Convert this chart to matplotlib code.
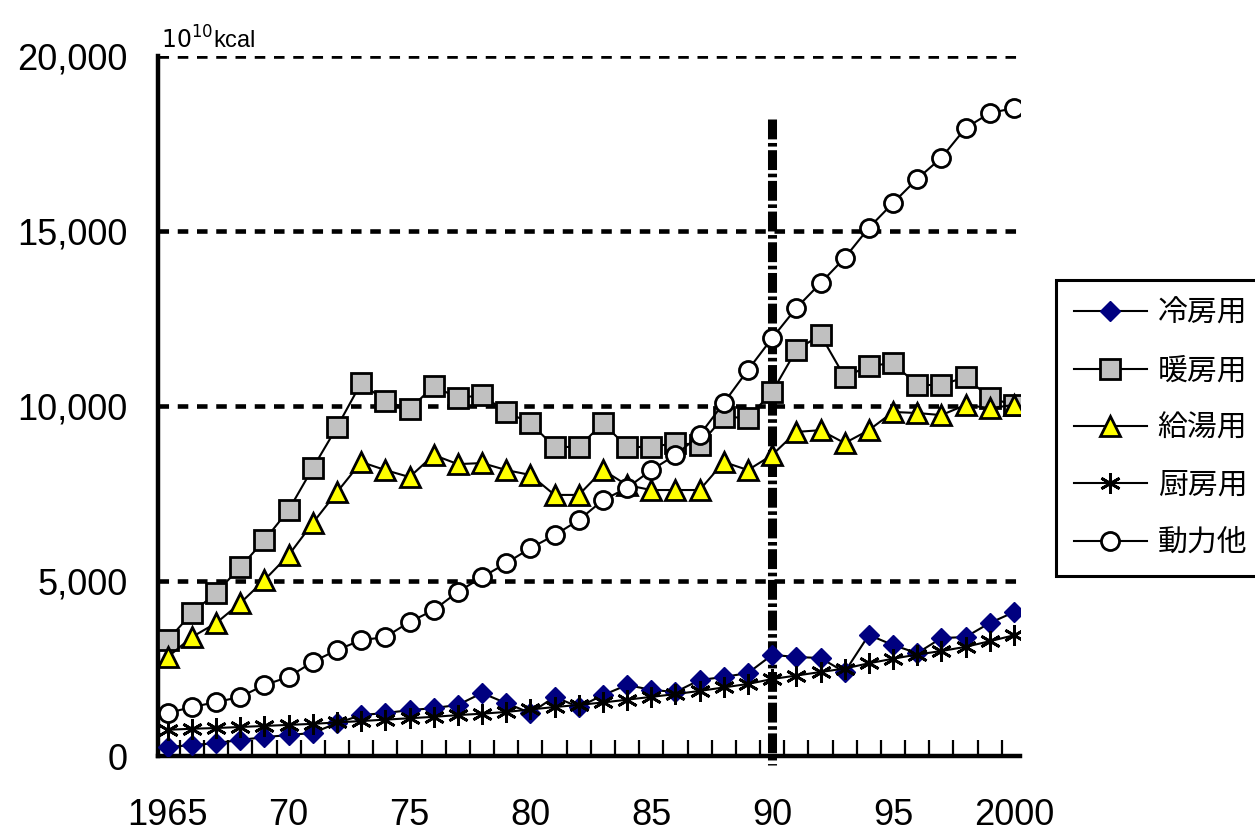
"""Household energy use by purpose, 1965-2000 (10^10 kcal)."""

import matplotlib
matplotlib.use("Agg")
import matplotlib.pyplot as plt
from matplotlib.ticker import FixedLocator

plt.rcParams["font.family"] = ["Liberation Sans", "Noto Sans CJK JP", "DejaVu Sans"]

years = list(range(1965, 2001))

cooling = [260, 310, 370, 460, 540, 600, 660, 940, 1170, 1230, 1310, 1370,
           1460, 1800, 1510, 1230, 1690, 1400, 1740, 2030, 1890, 1830, 2170,
           2260, 2370, 2890, 2830, 2800, 2400, 3460, 3170, 2940, 3370, 3400,
           3800, 4110]
heating = [3310, 4090, 4660, 5400, 6170, 7030, 8230, 9400, 10660, 10140,
           9910, 10570, 10230, 10310, 9830, 9510, 8830, 8830, 9510, 8830,
           8830, 8940, 8890, 9690, 9660, 10400, 11600, 12030, 10830, 11140,
           11230, 10600, 10600, 10830, 10230, 10030]
hot_water = [2830, 3400, 3800, 4370, 5030, 5740, 6660, 7540, 8400, 8170,
             7970, 8600, 8340, 8370, 8170, 8030, 7460, 7460, 8170, 7740,
             7600, 7600, 7600, 8400, 8170, 8600, 9260, 9310, 8940, 9310,
             9830, 9800, 9740, 10030, 9940, 10030]
kitchen = [750, 780, 800, 830, 860, 890, 920, 960, 1000, 1040, 1080, 1120,
           1170, 1210, 1260, 1330, 1400, 1460, 1530, 1610, 1690, 1770, 1860,
           1960, 2060, 2200, 2300, 2400, 2500, 2650, 2780, 2900, 3000, 3120,
           3280, 3450]
power_other = [1230, 1400, 1540, 1690, 2030, 2260, 2690, 3030, 3310, 3400,
               3830, 4170, 4690, 5110, 5510, 5940, 6310, 6740, 7310, 7660,
               8170, 8600, 9170, 10090, 11030, 11940, 12800, 13510, 14230,
               15090, 15800, 16490, 17090, 17940, 18370, 18510]

labels = ["冷房用", "暖房用", "給湯用", "厨房用", "動力他"]
year_ticks = [1965, 1970, 1975, 1980, 1985, 1990, 1995, 2000]
year_ticklabels = ["1965", "70", "75", "80", "85", "90", "95", "2000"]
y_ticks = [0, 5000, 10000, 15000, 20000]
marker_year = 1990
marker_top = 18200

fig = plt.figure(figsize=(12.55, 8.32), dpi=100)
ax = fig.add_axes([0.126, 0.0913, 0.6867, 0.8414])

line_kw = dict(color="black", lw=1.5, markeredgecolor="black", markeredgewidth=2)
ax.plot(years, cooling, marker="D", ms=10, markerfacecolor="#000080",
        markeredgecolor="#000080", color="black", lw=1.5, label=labels[0],
        zorder=3)
ax.plot(years, heating, marker="s", ms=14.5, markerfacecolor="#c0c0c0",
        label=labels[1], zorder=3, **line_kw)
ax.plot(years, hot_water, marker="^", ms=15, markerfacecolor="#ffff00",
        label=labels[2], zorder=3, **line_kw)
ax.plot(years, kitchen, marker=(6, 2, 0), ms=15, label=labels[3], zorder=3,
        **line_kw)
ax.plot(years, power_other, marker="o", ms=13, markerfacecolor="white",
        label=labels[4], zorder=3, **line_kw)

# heavy dashed horizontal gridlines
for v in y_ticks[1:]:
    ax.axhline(v, color="black", lw=3.3, ls=(0, (2.3, 1.9)), dash_capstyle="butt",
               zorder=1)

# dash-dot marker line at 1990
ax.plot([marker_year, marker_year], [marker_top, -250], color="black", lw=6.5,
        ls=(0, (2.2, 0.4, 0.4, 0.4)), dash_capstyle="butt", clip_on=False,
        zorder=2)

ax.set_xlim(1964.6, 2000.25)
ax.set_ylim(0, 20000)
ax.xaxis.set_major_locator(FixedLocator(year_ticks))
ax.set_xticklabels(year_ticklabels)
ax.xaxis.set_minor_locator(FixedLocator([y + 0.5 for y in years]))
ax.tick_params(axis="x", which="major", length=0, pad=30, labelsize=26)
ax.tick_params(axis="x", which="minor", direction="in", length=11.5, width=1.6)
ax.set_yticks(y_ticks)
ax.set_yticklabels([f"{v:,}" for v in y_ticks])
ax.tick_params(axis="y", length=0, pad=22, labelsize=26)

for side in ("top", "right"):
    ax.spines[side].set_visible(False)
for side in ("left", "bottom"):
    ax.spines[side].set_linewidth(3.2)

ax.text(0.003, 1.01, r"$10^{10}$kcal", transform=ax.transAxes, fontsize=17,
        ha="left", va="baseline")

leg = fig.legend(loc="upper left", bbox_to_anchor=(1056 / 1255, 1 - 280 / 832),
                 bbox_transform=fig.transFigure, borderaxespad=0,
                 prop={"family": ["Noto Sans CJK JP"], "size": 21.5},
                 handlelength=2.45, handletextpad=0.35, labelspacing=0.88,
                 borderpad=0.6, fancybox=False, framealpha=1,
                 edgecolor="black")
leg.get_frame().set_linewidth(2.2)

fig.savefig("out.png", dpi=100)
